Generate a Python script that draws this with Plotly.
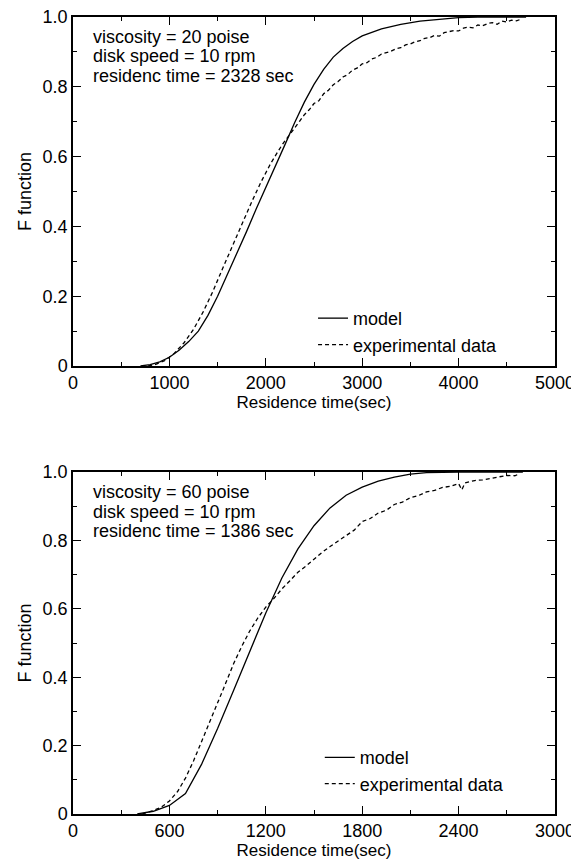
import plotly.graph_objects as go

# ---- data ----
# top panel: viscosity 20 poise
top_model_t = [700, 800, 900, 1000, 1100, 1200, 1300, 1400, 1500, 1600, 1700, 1800, 1900, 2000,
               2100, 2200, 2300, 2400, 2500, 2600, 2700, 2800, 2900, 3000, 3200, 3400, 3600,
               3800, 4000, 4200, 4700]
top_model_f = [0.0, 0.004, 0.012, 0.025, 0.045, 0.07, 0.1, 0.145, 0.2, 0.26, 0.32, 0.385, 0.45, 0.51,
               0.575, 0.635, 0.698, 0.756, 0.807, 0.85, 0.885, 0.91, 0.93, 0.946, 0.966, 0.979, 0.988,
               0.994, 0.998, 1.0, 1.0]

top_exp_t = [780, 850, 950, 1050, 1150, 1250, 1350, 1450, 1550, 1650, 1750, 1850, 1950, 2050,
             2120, 2180, 2240, 2300, 2350, 2400, 2450, 2500, 2550, 2600, 2650, 2700, 2750, 2800,
             2850, 2900, 2950, 3000, 3050, 3100, 3150, 3200, 3250, 3300, 3350, 3400, 3450, 3500,
             3550, 3600, 3650, 3700, 3750, 3800, 3850, 3900, 3950, 4000, 4050, 4100, 4150, 4200,
             4250, 4300, 4350, 4400, 4450, 4500, 4550, 4600, 4650]
top_exp_f = [0.0, 0.004, 0.015, 0.036, 0.066, 0.105, 0.155, 0.213, 0.278, 0.343, 0.407, 0.468, 0.527, 0.58,
             0.612, 0.638, 0.66, 0.684, 0.701, 0.72, 0.734, 0.752, 0.76, 0.78, 0.79, 0.806, 0.815, 0.828,
             0.835, 0.848, 0.854, 0.866, 0.869, 0.88, 0.884, 0.894, 0.897, 0.902, 0.909, 0.912, 0.92, 0.923,
             0.929, 0.932, 0.939, 0.941, 0.947, 0.945, 0.955, 0.957, 0.961, 0.96, 0.968, 0.971, 0.969, 0.977,
             0.975, 0.981, 0.984, 0.979, 0.988, 0.986, 0.991, 0.989, 0.994]

# bottom panel: viscosity 60 poise
bot_model_t = [400, 500, 600, 700, 800, 900, 1000, 1100, 1200, 1300, 1400, 1500, 1600, 1700,
               1800, 1900, 2000, 2100, 2200, 2400, 2800]
bot_model_f = [0.0, 0.008, 0.025, 0.06, 0.145, 0.25, 0.362, 0.477, 0.588, 0.69, 0.775, 0.843, 0.895, 0.932,
               0.956, 0.973, 0.985, 0.994, 0.998, 1.0, 1.0]

bot_exp_t = [430, 500, 550, 600, 650, 700, 750, 800, 850, 900, 950, 1000, 1050, 1100, 1150, 1200,
             1250, 1300, 1350, 1400, 1450, 1500, 1550, 1600, 1650, 1700, 1750, 1800, 1850, 1900,
             1950, 2000, 2050, 2100, 2150, 2200, 2250, 2300, 2350, 2400, 2420, 2440, 2500, 2550,
             2600, 2650, 2700, 2750, 2780]
bot_exp_f = [0.0, 0.01, 0.02, 0.038, 0.065, 0.105, 0.155, 0.21, 0.265, 0.325, 0.382, 0.44, 0.49, 0.535,
             0.573, 0.605, 0.63, 0.658, 0.682, 0.707, 0.725, 0.746, 0.765, 0.782, 0.798, 0.816, 0.83,
             0.855, 0.864, 0.88, 0.888, 0.905, 0.912, 0.925, 0.931, 0.942, 0.946, 0.955, 0.958, 0.966,
             0.948, 0.968, 0.975, 0.977, 0.982, 0.985, 0.99, 0.989, 0.995]

top_label = ["viscosity = 20 poise", "disk speed = 10 rpm", "residenc time = 2328 sec"]
bot_label = ["viscosity = 60 poise", "disk speed = 10 rpm", "residenc time = 1386 sec"]

y_ticks = [0, 0.2, 0.4, 0.6, 0.8, 1.0]
y_ticktext = ["0", "0.2", "0.4", "0.6", "0.8", "1.0"]
top_xticks = [0, 1000, 2000, 3000, 4000, 5000]
bot_xticks = [0, 600, 1200, 1800, 2400, 3000]

FONT = "Liberation Sans, Arial, sans-serif"
exp_dash = "4px,3px"

# the page body adds an 8px margin, so the layout is shifted up/left by 8px
H = 862
T, B = 9, 56
PLOT_H = H - T - B
TOP_H = 349
BOT_H = 342

fig = go.Figure()

fig.add_trace(go.Scatter(x=top_model_t, y=top_model_f, mode="lines", name="model",
                         line=dict(color="black", width=1.3), xaxis="x", yaxis="y", legend="legend"))
fig.add_trace(go.Scatter(x=top_exp_t, y=top_exp_f, mode="lines", name="experimental data",
                         line=dict(color="black", width=1.3, dash=exp_dash), xaxis="x", yaxis="y",
                         legend="legend"))
fig.add_trace(go.Scatter(x=bot_model_t, y=bot_model_f, mode="lines", name="model",
                         line=dict(color="black", width=1.3), xaxis="x2", yaxis="y2", legend="legend2"))
fig.add_trace(go.Scatter(x=bot_exp_t, y=bot_exp_f, mode="lines", name="experimental data",
                         line=dict(color="black", width=1.3, dash=exp_dash), xaxis="x2", yaxis="y2",
                         legend="legend2"))


def xaxis_style(tickvals, rng, dtick_minor, anchor):
    return dict(
        range=rng, tickvals=tickvals, ticks="inside", ticklen=8, tickwidth=1.2, tickcolor="black",
        minor=dict(dtick=dtick_minor, ticks="inside", ticklen=4, tickcolor="black", showgrid=False),
        showline=True, linecolor="black", linewidth=1.5, mirror="ticks",
        showgrid=False, zeroline=False, anchor=anchor, automargin=False,
        ticklabeloverflow="allow",
        title=dict(text="Residence time(sec)", font=dict(size=17, color="black"), standoff=1.5),
        tickfont=dict(size=18, color="black"),
    )


def yaxis_style(domain, anchor):
    return dict(
        domain=domain, range=[0, 1], tickvals=y_ticks, ticktext=y_ticktext,
        ticks="inside", ticklen=8, tickwidth=1.2, tickcolor="black",
        minor=dict(dtick=0.1, ticks="inside", ticklen=4, tickcolor="black", showgrid=False),
        showline=True, linecolor="black", linewidth=1.5, mirror="ticks",
        showgrid=False, zeroline=False, anchor=anchor, automargin=False,
        ticklabeloverflow="allow",
        title=dict(text="F function", font=dict(size=18, color="black"), standoff=6),
        tickfont=dict(size=18, color="black"),
    )


fig.update_layout(
    width=579, height=H,
    margin=dict(l=65, r=32, t=T, b=B),
    paper_bgcolor="white", plot_bgcolor="white",
    font=dict(family=FONT, size=18, color="black"),
    showlegend=True,
    xaxis=xaxis_style(top_xticks, [0, 5000], 500, "y"),
    yaxis=yaxis_style([1 - TOP_H / PLOT_H, 1.0], "x"),
    xaxis2=xaxis_style(bot_xticks, [0, 3000], 300, "y2"),
    yaxis2=yaxis_style([0.0, BOT_H / PLOT_H], "x2"),
    legend=dict(x=0.498, y=0.645, xanchor="left", yanchor="top", bgcolor="rgba(0,0,0,0)",
                font=dict(size=18), itemwidth=30, tracegroupgap=0),
    legend2=dict(x=0.512, y=0.094, xanchor="left", yanchor="top", bgcolor="rgba(0,0,0,0)",
                 font=dict(size=18), itemwidth=30, tracegroupgap=0),
)

annotations = []
for lines, xref, yref, ph in [(top_label, "x domain", "y domain", TOP_H),
                              (bot_label, "x2 domain", "y2 domain", BOT_H)]:
    for i, txt in enumerate(lines):
        annotations.append(dict(text=txt, xref=xref, yref=yref, x=0.039, y=1 - (9 + 19.5 * i) / ph,
                                xanchor="left", yanchor="top", showarrow=False, borderpad=0,
                                font=dict(size=18, color="black"), align="left"))
fig.update_layout(annotations=annotations)

fig.write_html("out.html")
